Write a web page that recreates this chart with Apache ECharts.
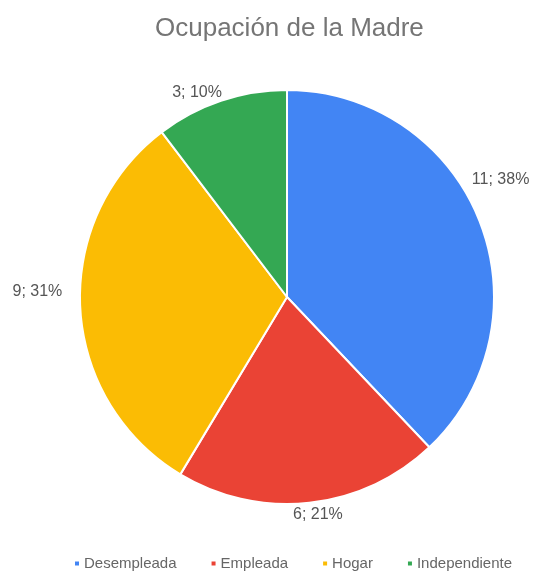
<!DOCTYPE html>
<html>
<head>
<meta charset="utf-8">
<script src="https://cdn.jsdelivr.net/npm/echarts@6/dist/echarts.min.js"></script>
<style>
  html, body { margin: 0; padding: 0; background: #fff; }
  #chart { width: 537px; height: 578px; }
</style>
</head>
<body>
<div id="chart"></div>
<script>
// Ocupación de la madre: count per category
const categories = ['Desempleada', 'Empleada', 'Hogar', 'Independiente'];
const counts = [11, 6, 9, 3];
const colors = ['#4285F4', '#EA4335', '#FBBC04', '#34A853'];

const total = counts.reduce((a, b) => a + b, 0);
const pieData = categories.map((name, i) => ({
  name: name,
  value: counts[i],
  itemStyle: { color: colors[i] }
}));

// small nudges so each slice label sits clear of the pie edge
const labelNudge = [[-15, -39], [-19, 6], [-10, -17], [5, -3]];

const FONT = 'Liberation Sans, Arial, sans-serif';

const chart = echarts.init(document.getElementById('chart'));
chart.setOption({
  animation: false,
  backgroundColor: '#ffffff',
  title: {
    text: 'Ocupación de la Madre',
    left: 150,
    top: 11,
    textStyle: {
      fontFamily: FONT,
      fontSize: 26,
      fontWeight: 'normal',
      color: '#757575'
    }
  },
  legend: {
    bottom: 2,
    left: 68,
    icon: 'rect',
    itemWidth: 6,
    itemHeight: 6,
    itemGap: 33,
    textStyle: {
      fontFamily: FONT,
      fontSize: 15,
      color: '#666',
      padding: [0, 0, 0, -1]
    },
    data: categories
  },
  series: [{
    type: 'pie',
    center: [287, 297],
    radius: 207,
    startAngle: 90,
    clockwise: true,
    avoidLabelOverlap: false,
    itemStyle: { borderColor: '#ffffff', borderWidth: 2 },
    label: {
      show: true,
      position: 'outside',
      formatter: function (p) {
        return p.value + '; ' + Math.round(p.value / total * 100) + '%';
      },
      fontFamily: FONT,
      fontSize: 16,
      color: '#555',
      distanceToLabelLine: 2
    },
    labelLine: { show: false, length: 6, length2: 0 },
    labelLayout: function (params) {
      const n = labelNudge[params.dataIndex];
      return { dx: n[0], dy: n[1] };
    },
    data: pieData
  }]
});
</script>
</body>
</html>
